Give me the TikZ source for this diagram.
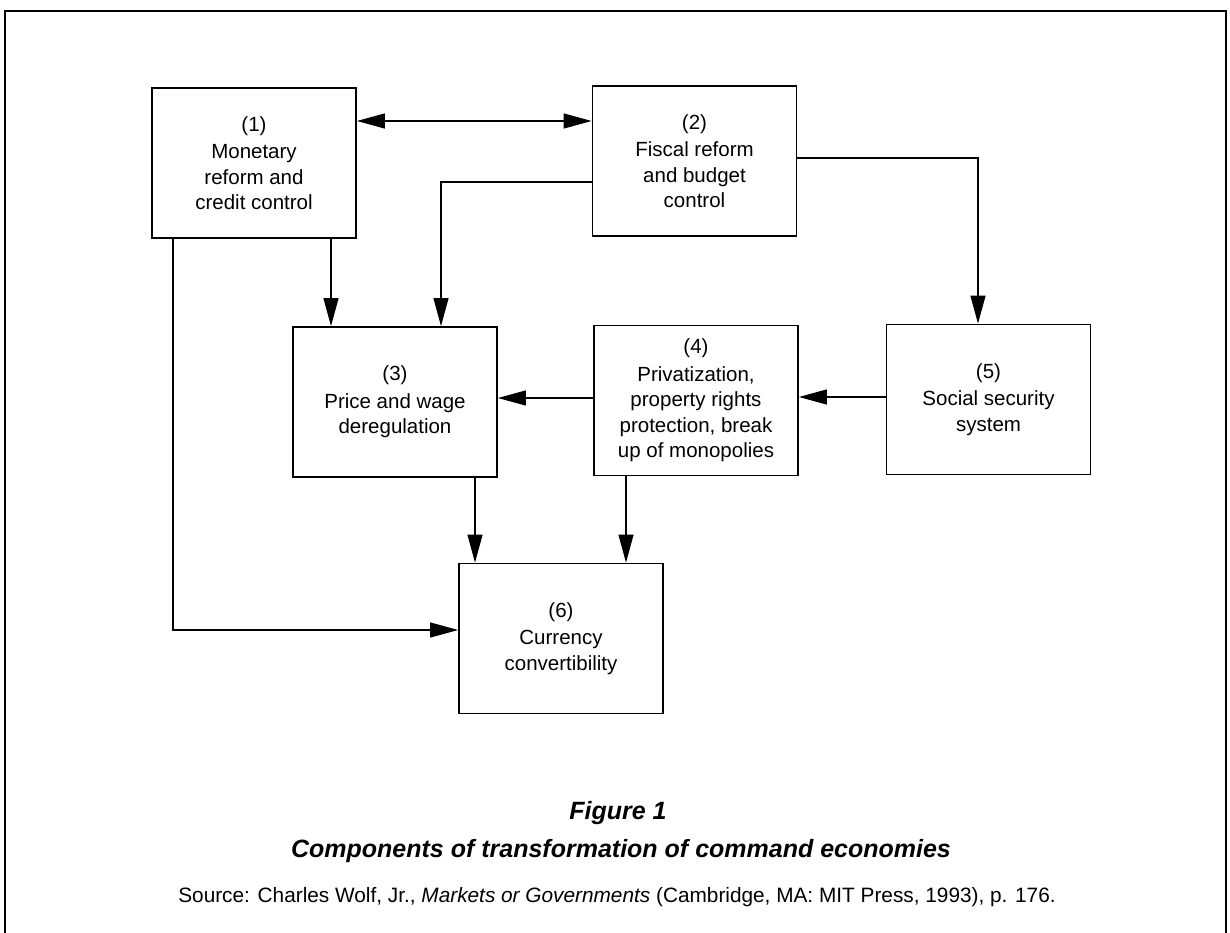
\documentclass[tikz,border=0pt]{standalone}
\usepackage{fontspec}
\setmainfont{Liberation Sans}
\usetikzlibrary{arrows.meta,calc}
\begin{document}
\begin{tikzpicture}[x=1pt,y=-1pt,
  box/.style={draw, line width=1.8pt, minimum width=204pt, minimum height=150pt,
    align=center, inner sep=0pt, font=\fontsize{20.5}{25.5}\selectfont},
  arr/.style={line width=1.2pt, -{Triangle[length=28pt,width=15pt]}},
  arrtwo/.style={line width=1.2pt, {Triangle[length=28pt,width=15pt]}-{Triangle[length=28pt,width=15pt]}},
  frame/.style={line width=2.2pt},
  captxt/.style={anchor=base, inner sep=0pt}]
\useasboundingbox (0,0) rectangle (1230,933);
\fill[white] (0,0) rectangle (1230,933);
% frame
\coordinate (fbl) at (5,933);
\coordinate (ftl) at (5,11);
\coordinate (ftr) at (1226,11);
\coordinate (fbr) at (1226,933);
\draw[frame] (fbl) -- (ftl) -- (ftr) -- (fbr);
% boxes
\node[box] (b1) at (254,163) {(1)\\[2pt]Monetary\\reform and\\credit control};
\node[box] (b2) at (694.5,161) {(2)\\[2pt]Fiscal reform\\and budget\\control};
\node[box] (b3) at (395,402) {(3)\\[2pt]Price and wage\\deregulation};
\node[box] (b4) at (696,400.5) {(4)\\[2pt]Privatization,\\property rights\\protection, break\\up of monopolies};
\node[box] (b5) at (988.5,399.5) {(5)\\[2pt]Social security\\system};
\node[box] (b6) at (561,638.5) {(6)\\[2pt]Currency\\convertibility};
% connectors
\draw[arrtwo] ([yshift=42pt]b1.east) -- ([yshift=42pt]b1.east -| b2.west);
\draw[arr] ([yshift=-21pt]b2.west) -| ([xshift=46pt]b3.north);
\draw[arr] ([xshift=77pt]b1.south) -- ([xshift=77pt]b1.south |- b3.north);
\draw[arr] ([xshift=-81pt]b1.south) |- ([yshift=8.5pt]b6.west);
\draw[arr] ([yshift=3pt]b2.east) -| ([xshift=-10.5pt]b5.north);
\draw[arr] ([yshift=2.5pt]b5.west) -- ([yshift=2.5pt]b5.west -| b4.east);
\draw[arr] ([yshift=2.5pt]b4.west) -- ([yshift=2.5pt]b4.west -| b3.east);
\draw[arr] ([xshift=80pt]b3.south) -- ([xshift=80pt]b3.south |- b6.north);
\draw[arr] ([xshift=-70pt]b4.south) -- ([xshift=-70pt]b4.south |- b6.north);
% caption
\node[captxt] (fig) at (618,819) {\fontsize{25}{30}\selectfont\bfseries\itshape Figure 1};
\node[captxt] (title) at (621,857) {\fontsize{25}{30}\selectfont\bfseries\itshape Components of transformation of command economies};
\node[captxt] (src) at (617,902) {\fontsize{20.8}{25}\selectfont Source: Charles Wolf, Jr., \textit{Markets or Governments} (Cambridge, MA: MIT Press, 1993), p. 176.};
\end{tikzpicture}
\end{document}
